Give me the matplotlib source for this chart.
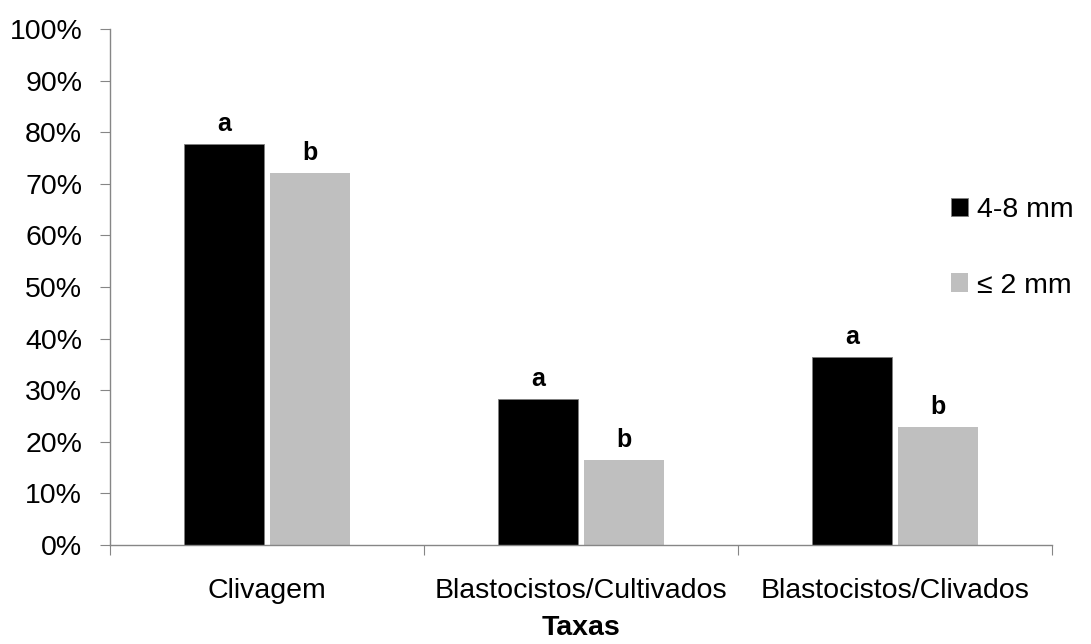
import numpy as np
import matplotlib
matplotlib.use("Agg")
import matplotlib.pyplot as plt
from matplotlib.ticker import PercentFormatter

plt.rcParams['font.family'] = ['Liberation Sans', 'DejaVu Sans']

categories = ['Clivagem', 'Blastocistos/Cultivados', 'Blastocistos/Clivados']
series_names = ['4-8 mm', '≤ 2 mm']
vals_48 = [77.7, 28.2, 36.4]
vals_le2 = [72.0, 16.5, 22.9]
letters_48 = ['a', 'a', 'a']
letters_le2 = ['b', 'b', 'b']

colors = ['#000000', '#BFBFBF']
axis_gray = '#868686'
fs = 20.5

fig = plt.figure(figsize=(10.91, 6.44), dpi=100)
ax = fig.add_axes([110 / 1091, 1 - 545 / 644, (1052 - 110) / 1091, (545 - 29) / 644])

x = np.arange(len(categories))
w = 0.255
off = 0.137
ax.bar(x - off, vals_48, w, color=colors[0], edgecolor='#7f7f7f', linewidth=0.6, label=series_names[0])
ax.bar(x + off, vals_le2, w, color=colors[1], edgecolor='none', label=series_names[1])

for xi, v, t in zip(x - off, vals_48, letters_48):
    ax.annotate(t, (xi, v), xytext=(0, 6), textcoords='offset points',
                ha='center', va='bottom', fontsize=18, fontweight='bold')
for xi, v, t in zip(x + off, vals_le2, letters_le2):
    ax.annotate(t, (xi, v), xytext=(0, 6), textcoords='offset points',
                ha='center', va='bottom', fontsize=18, fontweight='bold')

ax.set_ylim(0, 100)
ax.set_xlim(-0.5, 2.5)
ax.set_yticks(np.arange(0, 101, 10))
ax.yaxis.set_major_formatter(PercentFormatter(decimals=0))

ax.set_xticks([-0.5, 0.5, 1.5, 2.5])
ax.set_xticklabels([])
ax.set_xticks(x, minor=True)
ax.set_xticklabels(categories, minor=True)
ax.tick_params(axis='x', which='major', length=7, color=axis_gray, direction='out')
ax.tick_params(axis='x', which='minor', length=0, pad=24, labelsize=fs)
ax.tick_params(axis='y', length=7, color=axis_gray, direction='out', pad=13, labelsize=fs)

for s in ['top', 'right']:
    ax.spines[s].set_visible(False)
for s in ['left', 'bottom']:
    ax.spines[s].set_color(axis_gray)
    ax.spines[s].set_linewidth(1.0)

ax.set_xlabel('Taxas', fontsize=fs, fontweight='bold', labelpad=8)

ax.legend(loc='upper left', bbox_to_anchor=(0.893, 0.675), frameon=False,
          fontsize=fs, handlelength=0.6, handleheight=0.6, handletextpad=0.3,
          labelspacing=1.75, borderaxespad=0, borderpad=0)

fig.savefig('out.png', dpi=100)
